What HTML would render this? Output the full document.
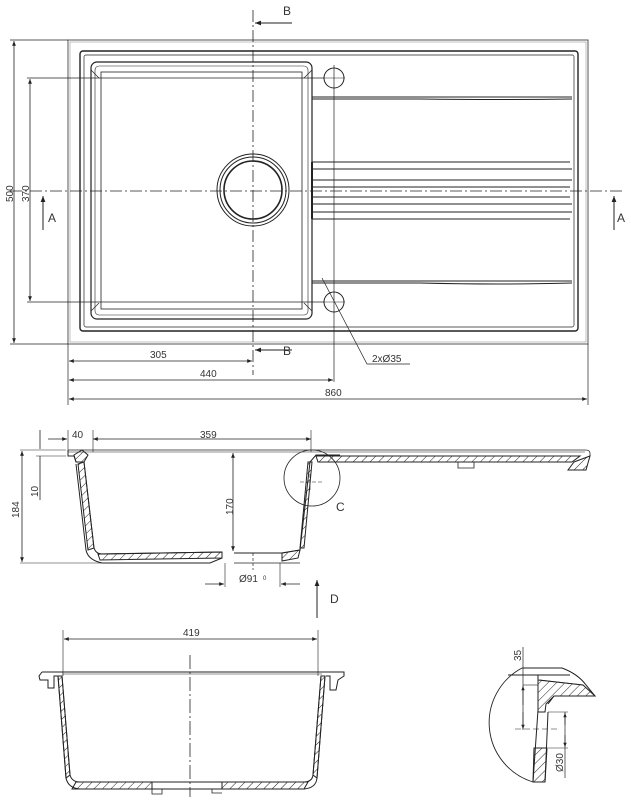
<!DOCTYPE html>
<html><head><meta charset="utf-8"><style>
html,body{margin:0;padding:0;background:#fff;}
svg{display:block;}
text{font-family:"Liberation Sans",sans-serif;fill:#333;}
</style></head><body>
<svg width="631" height="800" viewBox="0 0 631 800" xmlns="http://www.w3.org/2000/svg">
<defs>
<marker id="ar" viewBox="0 0 10 10" refX="10" refY="5" markerWidth="8" markerHeight="6" orient="auto-start-reverse"><path d="M0,1 L10,5 L0,9 z" fill="#222"/></marker>
<pattern id="h" width="6" height="6" patternUnits="userSpaceOnUse" patternTransform="rotate(45)"><line x1="0" y1="0" x2="0" y2="6" stroke="#222" stroke-width="1"/></pattern>
</defs>
<g fill="none" stroke="#222" stroke-width="1">
<!-- TOP VIEW -->
<rect x="68" y="40" width="520" height="304" stroke="#555"/>
<rect x="70" y="42" width="516" height="300" stroke="#999" stroke-width="0.6"/>
<rect x="80" y="51" width="498" height="280" rx="3" stroke-width="1.4"/>
<rect x="84" y="55" width="490" height="272" rx="2" stroke-width="0.7"/>
<rect x="91" y="62" width="221" height="257" rx="6" stroke-width="1.2"/>
<rect x="95" y="66" width="213" height="249" rx="4" stroke-width="0.6"/>
<rect x="101" y="72" width="201" height="237" stroke-width="0.8"/>
<path d="M91,70 l8,8 M312,70 l-8,8 M91,311 l8,-8 M312,311 l-8,-8" stroke-width="0.7"/>
<circle cx="253" cy="190" r="36"/><circle cx="253" cy="190" r="33"/><circle cx="253" cy="190" r="29" stroke-width="1.6"/>
<circle cx="334" cy="78" r="10"/><circle cx="334" cy="302" r="10"/>
<path d="M323,78 h22 M323,302 h22" stroke-width="0.6"/>
<path d="M312,97 L572,97 M312,99 L420,99 Q500,100 572,99"/>
<path d="M312,281 L572,281 M312,283 L420,283 Q500,285 572,283"/>
<path d="M312,162 H570 M312,169 H572 M312,180 H572 M312,187 H570 M312,197 H570 M312,204 H572 M312,212 H572 M312,219 H570"/>
<path d="M312,162 V219" stroke-width="2"/>
<path d="M253,10 V375" stroke-dasharray="12,3,2,3" stroke-width="0.8"/>
<path d="M10,191 H622" stroke-dasharray="12,3,2,3" stroke-width="0.8"/>
<path d="M334,65 V382" stroke-width="0.7"/>
<path d="M292,23 H255" marker-end="url(#ar)"/>
<path d="M292,350 H255" marker-end="url(#ar)"/>
<path d="M43,230 V196" marker-end="url(#ar)"/>
<path d="M614,230 V196" marker-end="url(#ar)"/>
<path d="M10,40 H68 M10,344 H68" stroke-width="0.7"/>
<path d="M14,41 V343" marker-start="url(#ar)" marker-end="url(#ar)" stroke-width="0.8"/>
<path d="M27,78 H324 M27,302 H324" stroke-width="0.7"/>
<path d="M30,79 V301" marker-start="url(#ar)" marker-end="url(#ar)" stroke-width="0.8"/>
<path d="M68,344 V405 M588,344 V405" stroke-width="0.7"/>
<path d="M69,361 H252" marker-start="url(#ar)" marker-end="url(#ar)" stroke-width="0.8"/>
<path d="M69,380 H333" marker-start="url(#ar)" marker-end="url(#ar)" stroke-width="0.8"/>
<path d="M69,399 H587" marker-start="url(#ar)" marker-end="url(#ar)" stroke-width="0.8"/>
<path d="M322,278 L367,364 H410" stroke-width="0.7"/>

<!-- SECTION A -->
<path d="M48,439 H67" marker-end="url(#ar)" stroke-width="0.8"/>
<path d="M93,439 H311" marker-start="url(#ar)" marker-end="url(#ar)" stroke-width="0.8"/>
<path d="M68,430 V450 M93,430 V452 M311,430 V452" stroke-width="0.6"/>
<path d="M20,450 H66 M20,563 H210" stroke-width="0.6"/>
<path d="M22,451 V562" marker-start="url(#ar)" marker-end="url(#ar)" stroke-width="0.8"/>
<path d="M40,430 V449 M40,456 V500" stroke-width="0.8"/>
<path d="M36,456 H66" stroke-width="0.6"/>
<path d="M68,450 H585 Q590,450 590,453 V456" stroke-width="0.8"/>
<path d="M68,452 H585" stroke-width="0.5"/>
<path d="M68,450 V456 H74 L76,462 L84,462 L94,548 Q96,554 102,554 L222,552 L222,558 L210,563 L102,563 Q88,560 86,550 L76,464" fill="none"/>
<path d="M84,462 L94,548 L88,550 L78,464 z" fill="url(#h)"/>
<path d="M98,554 L222,552 L222,558 L100,560 z" fill="url(#h)"/>
<path d="M74,455 L82,450 L88,455 L84,462 L76,462 z" fill="url(#h)"/>
<path d="M234,553 H282 L300,550 L310,462 L316,455 H340"/>
<path d="M282,553 L300,550 L298,558 L282,561 z" fill="url(#h)"/>
<path d="M304,548 L312,462 L308,462 L300,548 z" fill="url(#h)"/>
<path d="M316,456 L580,456 L572,462 L318,462 z" fill="url(#h)"/>
<path d="M574,462 L590,456 L586,470 L568,470 z" fill="url(#h)"/>
<path d="M458,462 v6 h16 v-6" stroke-width="0.8"/>
<path d="M234,563 H300" stroke-width="0.7"/>
<path d="M233,453 V551" marker-start="url(#ar)" marker-end="url(#ar)" stroke-width="0.8"/>
<circle cx="312" cy="478" r="28" stroke-width="0.8"/>
<path d="M300,482 H322 M310,474 V490" stroke-dasharray="4,2" stroke-width="0.6"/>
<path d="M225,563 V587 M280,563 V587" stroke-width="0.6"/>
<path d="M205,584 H224" marker-end="url(#ar)" stroke-width="0.8"/>
<path d="M300,584 H281" marker-end="url(#ar)" stroke-width="0.8"/>
<path d="M253,553 V570" stroke-dasharray="3,2" stroke-width="0.7"/>
<path d="M317,618 V580" marker-end="url(#ar)" stroke-width="1"/>

<!-- SECTION B -->
<path d="M63,630 V676 M318,630 V676" stroke-width="0.6"/>
<path d="M64,639 H317" marker-start="url(#ar)" marker-end="url(#ar)" stroke-width="0.8"/>
<path d="M190,655 V797" stroke-dasharray="14,3,2,3" stroke-width="0.8"/>
<path d="M42,672 H344 V676 L338,680 L336,690 L330,690 L330,676 H326"/>
<path d="M42,672 L39,676 L40,680 L48,680 L48,688 L54,688 L54,676 H62"/>
<path d="M62,674 H322" stroke-width="0.5"/>
<path d="M62,676 L70,775 Q72,782 80,782 L304,782 Q312,782 313,775 L321,676" />
<path d="M58,676 L66,778 Q68,788 80,789 L304,789 Q316,788 317,778 L325,676"/>
<path d="M58,676 L62,676 L70,775 L66,778 z" fill="url(#h)"/>
<path d="M321,676 L325,676 L317,778 L313,775 z" fill="url(#h)"/>
<path d="M76,782 H152 V789 H72 z" fill="url(#h)"/>
<path d="M222,782 H308 L304,789 H222 z" fill="url(#h)"/>
<path d="M152,789 v5 h10 v-5 M212,789 v4 h10" stroke-width="0.8"/>

<!-- DETAIL C -->
<path d="M522,668 A62,62 0 0 0 533,782" stroke-width="0.9"/>
<path d="M522,668 H562 Q578,674 586,685 L595,696 H554 L548,704" />
<path d="M508,675 H570" />
<path d="M540,680 L583,685" stroke-width="0.8"/>
<path d="M538,675 V710 L533,782 H545 L548,712" />
<path d="M538,680 L583,685 L595,696 H554 L546,704 L545,712 L538,712 z" fill="url(#h)"/>
<path d="M534,748 H547 L545,782 H533 z" fill="url(#h)"/>
<path d="M523,647 V730" stroke-width="0.7"/>
<path d="M523,705 V686" marker-end="url(#ar)" stroke-width="0.7"/>
<path d="M523,712 V729" marker-end="url(#ar)" stroke-width="0.7"/>
<path d="M523,685 H538" stroke-width="0.6"/>
<path d="M515,729 H560" stroke-dasharray="6,3" stroke-width="0.6"/>
<path d="M548,712 H568 M548,748 H568" stroke-width="0.6"/>
<path d="M565,712 V778" stroke-width="0.7"/>
<path d="M565,725 V713" marker-end="url(#ar)" stroke-width="0.7"/>
<path d="M565,735 V747" marker-end="url(#ar)" stroke-width="0.7"/>
</g>
<g font-size="10">
<text x="283" y="15" font-size="12">B</text>
<text x="283" y="355" font-size="12">B</text>
<text x="48" y="222" font-size="12">A</text>
<text x="617" y="222" font-size="12">A</text>
<text x="150" y="358">305</text>
<text x="200" y="377">440</text>
<text x="325" y="396">860</text>
<text x="372" y="362">2xØ35</text>
<text transform="translate(13,202) rotate(-90)">500</text>
<text transform="translate(29,202) rotate(-90)">370</text>
<text x="72" y="438">40</text>
<text x="200" y="438">359</text>
<text transform="translate(19,518) rotate(-90)">184</text>
<text transform="translate(38,497) rotate(-90)">10</text>
<text transform="translate(233,515) rotate(-90)">170</text>
<text x="336" y="511" font-size="12">C</text>
<text x="239" y="582">Ø91</text>
<text x="263" y="580" font-size="6">0</text>
<text x="330" y="603" font-size="12">D</text>
<text x="183" y="636">419</text>
<text transform="translate(521,661) rotate(-90)">35</text>
<text transform="translate(563,772) rotate(-90)">Ø30</text>
</g>
</svg>
</body></html>
